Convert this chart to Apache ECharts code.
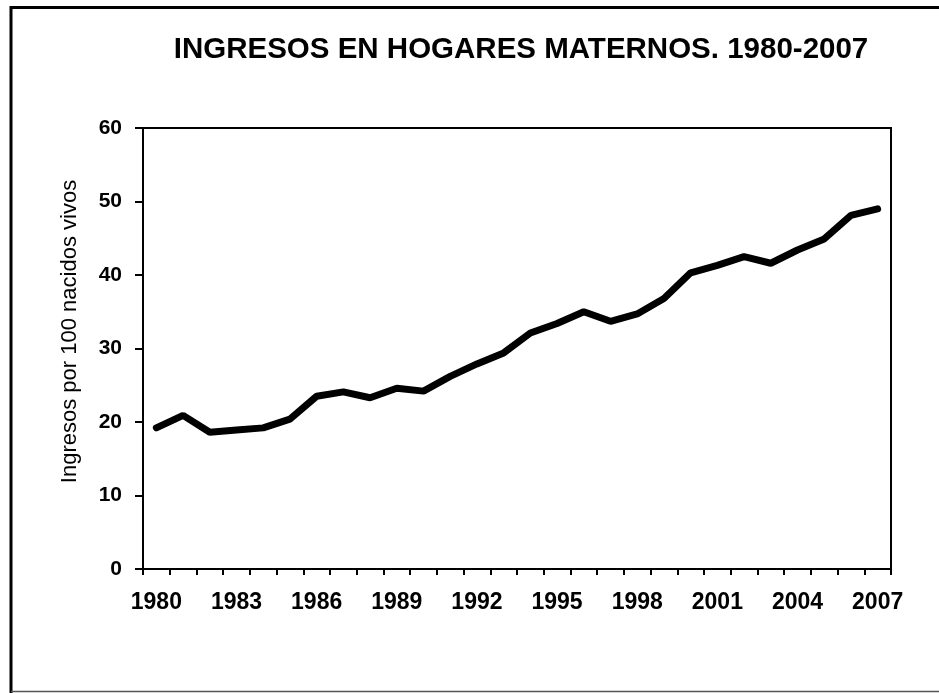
<!DOCTYPE html>
<html>
<head>
<meta charset="utf-8">
<script src="https://cdn.jsdelivr.net/npm/echarts@6/dist/echarts.min.js"></script>
<style>
  html, body { margin: 0; padding: 0; background: #fff; }
  #chart { width: 939px; height: 693px; }
</style>
</head>
<body>
<div id="chart"></div>
<script>
var years = ['1980', '1981', '1982', '1983', '1984', '1985', '1986', '1987', '1988', '1989',
             '1990', '1991', '1992', '1993', '1994', '1995', '1996', '1997', '1998', '1999',
             '2000', '2001', '2002', '2003', '2004', '2005', '2006', '2007'];
var ingresos = [19.2, 20.9, 18.6, 18.9, 19.2, 20.4, 23.5, 24.1, 23.3, 24.6,
                24.2, 26.2, 27.9, 29.4, 32.1, 33.4, 35.0, 33.7, 34.7, 36.8,
                40.3, 41.3, 42.5, 41.6, 43.4, 44.9, 48.1, 49.0];
var titulo = 'INGRESOS EN HOGARES MATERNOS. 1980-2007';
var nombreEje = 'Ingresos por 100 nacidos vivos';

window.onload = function () {
  var font = '"Liberation Sans", Arial, sans-serif';
  var chart = echarts.init(document.getElementById('chart'));
  var option = {
    animation: false,
    backgroundColor: '#fff',
    title: {
      text: titulo,
      left: 516,
      top: 30,
      textAlign: 'center',
      textStyle: { fontFamily: font, fontWeight: 'bold', fontSize: 29.5, color: '#000' }
    },
    // outer frame of the original picture
    graphic: [
      { type: 'line', shape: { x1: 10, y1: 7.5, x2: 939, y2: 7.5 }, style: { stroke: '#000', lineWidth: 3 } },
      { type: 'line', shape: { x1: 11, y1: 6, x2: 11, y2: 693 }, style: { stroke: '#000', lineWidth: 3 } },
      { type: 'line', shape: { x1: 11, y1: 691.5, x2: 939, y2: 691.5 }, style: { stroke: '#555', lineWidth: 1.5 } }
    ],
    grid: {
      left: 143,
      right: 48,
      top: 128,
      bottom: 124,
      show: true,
      borderColor: '#000',
      borderWidth: 2,
      backgroundColor: 'transparent'
    },
    xAxis: {
      type: 'category',
      data: years,
      boundaryGap: true,
      axisLine: { lineStyle: { color: '#000', width: 2 } },
      axisTick: { show: true, interval: 0, length: 6, lineStyle: { color: '#000', width: 2 } },
      axisLabel: {
        interval: 2,
        margin: 22,
        color: '#000',
        fontFamily: font,
        fontWeight: 'bold',
        fontSize: 23
      },
      splitLine: { show: false }
    },
    yAxis: {
      type: 'value',
      min: 0,
      max: 60,
      interval: 10,
      name: nombreEje,
      nameLocation: 'middle',
      nameGap: 62,
      nameTextStyle: {
        fontFamily: font,
        fontSize: 22,
        color: '#000',
        padding: [0, 0, 0, 34]
      },
      axisLine: { show: true, lineStyle: { color: '#000', width: 2 } },
      axisTick: { show: true, length: 8, lineStyle: { color: '#000', width: 2 } },
      axisLabel: {
        margin: 21,
        color: '#000',
        fontFamily: font,
        fontWeight: 'bold',
        fontSize: 21
      },
      splitLine: { show: false }
    },
    series: [
      {
        name: 'Ingresos',
        type: 'line',
        data: ingresos,
        showSymbol: false,
        symbol: 'none',
        lineStyle: { color: '#000', width: 7, cap: 'round' }
      }
    ]
  };
  chart.setOption(option);
};
</script>
</body>
</html>
